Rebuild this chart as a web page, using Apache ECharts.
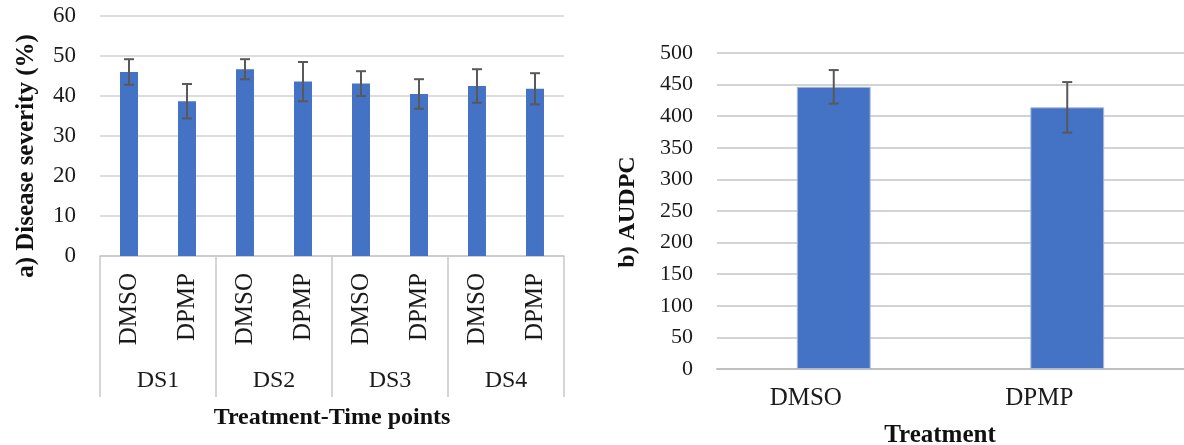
<!DOCTYPE html>
<html>
<head>
<meta charset="utf-8">
<script src="https://cdn.jsdelivr.net/npm/echarts@6/dist/echarts.min.js"></script>
<style>
  html, body { margin: 0; padding: 0; background: #fff; }
  #chart { width: 1184px; height: 445px; }
</style>
</head>
<body>
<div id="chart"></div>
<script>
// a) disease severity per treatment and time point
var treatments = ['DMSO', 'DPMP', 'DMSO', 'DPMP', 'DMSO', 'DPMP', 'DMSO', 'DPMP'];
var timePoints = ['DS1', 'DS2', 'DS3', 'DS4'];
var severity = [46.0, 38.7, 46.7, 43.6, 43.1, 40.5, 42.5, 41.8];
var severityErr = [3.2, 4.3, 2.5, 4.9, 3.1, 3.7, 4.2, 3.9];

// b) AUDPC per treatment
var audpcCats = ['DMSO', 'DPMP'];
var audpc = [446.5, 414];
var audpcErr = [26.5, 40];

var blue = '#4472C4';
var errColor = '#595959';
var textColor = '#1a1a1a';
var serif = 'Liberation Serif';

function errData(vals, errs) {
    return vals.map(function (v, i) {
        return [i, v - errs[i], v + errs[i]];
    });
}

function renderErr(params, api) {
    var lo = api.coord([api.value(0), api.value(1)]);
    var hi = api.coord([api.value(0), api.value(2)]);
    var half = 5;
    var st = { stroke: errColor, lineWidth: 2 };
    return {
        type: 'group',
        children: [
            { type: 'line', shape: { x1: hi[0], y1: hi[1], x2: lo[0], y2: lo[1] }, style: st },
            { type: 'line', shape: { x1: hi[0] - half, y1: hi[1], x2: hi[0] + half, y2: hi[1] }, style: st },
            { type: 'line', shape: { x1: lo[0] - half, y1: lo[1], x2: lo[0] + half, y2: lo[1] }, style: st }
        ]
    };
}

var chart = echarts.init(document.getElementById('chart'));

var option = {
    animation: false,
    backgroundColor: '#fff',
    textStyle: { fontFamily: serif, color: textColor },
    grid: [
        { left: 100, right: 620, top: 16, bottom: 189 },
        { left: 717, right: 0, top: 53, bottom: 76 }
    ],
    xAxis: [
        {
            type: 'category',
            gridIndex: 0,
            data: treatments,
            axisLine: { lineStyle: { color: '#c8c8c8', width: 1.5 } },
            axisTick: { show: false },
            axisLabel: { rotate: 90, margin: 17, fontSize: 25, color: textColor, fontFamily: serif }
        },
        {
            type: 'category',
            gridIndex: 0,
            position: 'bottom',
            data: timePoints,
            axisLine: { show: false },
            axisTick: { show: true, length: 141, lineStyle: { color: '#c8c8c8', width: 1.5 } },
            axisLabel: { margin: 113, fontSize: 24, color: textColor, fontFamily: serif }
        },
        {
            type: 'category',
            gridIndex: 1,
            data: audpcCats,
            axisLine: { lineStyle: { color: '#bfbfbf', width: 2 } },
            axisTick: { show: false },
            axisLabel: { margin: 17, fontSize: 25, color: textColor, fontFamily: serif, padding: [0, 56, 0, 0] }
        }
    ],
    yAxis: [
        {
            type: 'value',
            gridIndex: 0,
            min: 0,
            max: 60,
            interval: 10,
            axisLine: { show: false },
            axisTick: { show: false },
            axisLabel: { margin: 24, fontSize: 23, color: textColor, fontFamily: serif },
            splitLine: { lineStyle: { color: '#d2d2d2', width: 1.5 } }
        },
        {
            type: 'value',
            gridIndex: 1,
            min: 0,
            max: 500,
            interval: 50,
            axisLine: { show: false },
            axisTick: { show: false },
            axisLabel: { margin: 24, fontSize: 22, color: textColor, fontFamily: serif },
            splitLine: { lineStyle: { color: '#c4c4c4', width: 1.5 } }
        }
    ],
    series: [
        {
            type: 'bar',
            xAxisIndex: 0,
            yAxisIndex: 0,
            data: severity,
            barWidth: '31%',
            itemStyle: { color: blue }
        },
        {
            type: 'custom',
            xAxisIndex: 0,
            yAxisIndex: 0,
            data: errData(severity, severityErr),
            renderItem: renderErr,
            z: 5
        },
        {
            type: 'bar',
            xAxisIndex: 2,
            yAxisIndex: 1,
            data: audpc,
            barWidth: '31.6%',
            itemStyle: { color: blue, borderColor: '#a9b8d6', borderWidth: 1 }
        },
        {
            type: 'custom',
            xAxisIndex: 2,
            yAxisIndex: 1,
            data: errData(audpc, audpcErr),
            renderItem: renderErr,
            z: 5
        }
    ],
    graphic: [
        {
            type: 'text',
            x: 27, y: 156,
            rotation: Math.PI / 2,
            style: {
                text: 'a) Disease severity (%)',
                font: 'bold 25px ' + serif,
                fill: '#111',
                textAlign: 'center',
                textVerticalAlign: 'middle'
            }
        },
        {
            type: 'text',
            x: 332, y: 418,
            style: {
                text: 'Treatment-Time points',
                font: 'bold 24px ' + serif,
                fill: '#111',
                textAlign: 'center',
                textVerticalAlign: 'middle'
            }
        },
        {
            type: 'text',
            x: 628, y: 212,
            rotation: Math.PI / 2,
            style: {
                text: 'b) AUDPC',
                font: 'bold 24px ' + serif,
                fill: '#111',
                textAlign: 'center',
                textVerticalAlign: 'middle'
            }
        },
        {
            type: 'text',
            x: 940, y: 436,
            style: {
                text: 'Treatment',
                font: 'bold 25px ' + serif,
                fill: '#111',
                textAlign: 'center',
                textVerticalAlign: 'middle'
            }
        }
    ]
};

chart.setOption(option);
</script>
</body>
</html>
